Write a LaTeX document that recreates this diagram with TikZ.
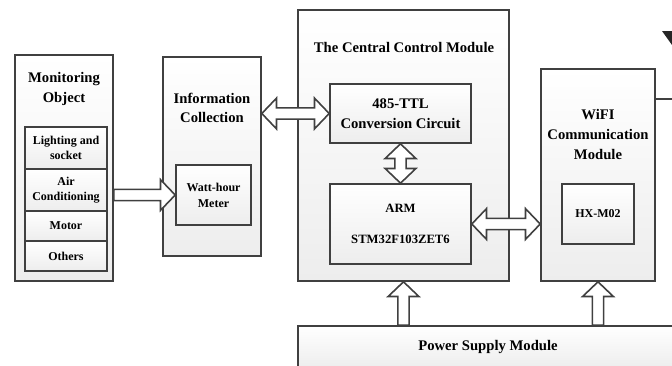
\documentclass[tikz,border=0pt]{standalone}
\usepackage{fontspec}
\setmainfont{Liberation Serif}
\usepackage{xcolor}
\usetikzlibrary{calc}

\definecolor{linegray}{HTML}{404040}
\definecolor{boxgray}{HTML}{EDEDED}

% hollow block arrows, tip at #2 (single) or at both ends (double)
\newcommand{\fatarrow}[2]{%
  \coordinate (hb) at ($(#2)!11pt!(#1)$);
  \draw[blockarrow] ($(#1)!4.2pt!90:(#2)$) -- ($(hb)!4.2pt!-90:(#1)$) -- ($(hb)!11.5pt!-90:(#1)$) -- (#2)
    -- ($(hb)!11.5pt!90:(#1)$) -- ($(hb)!4.2pt!90:(#1)$) -- ($(#1)!4.2pt!-90:(#2)$) -- cycle;}
\newcommand{\fatdarrow}[2]{%
  \coordinate (ha) at ($(#1)!11pt!(#2)$);
  \coordinate (hb) at ($(#2)!11pt!(#1)$);
  \draw[blockarrow] (#1) -- ($(ha)!11.5pt!90:(#2)$) -- ($(ha)!4.2pt!90:(#2)$) -- ($(hb)!4.2pt!-90:(#1)$)
    -- ($(hb)!11.5pt!-90:(#1)$) -- (#2) -- ($(hb)!11.5pt!90:(#1)$) -- ($(hb)!4.2pt!90:(#1)$)
    -- ($(ha)!4.2pt!-90:(#2)$) -- ($(ha)!11.5pt!-90:(#2)$) -- cycle;}

\begin{document}
\begin{tikzpicture}[x=0.75pt, y=-0.75pt,
  box/.style={draw=linegray, line width=1.2pt, top color=white, bottom color=boxgray, inner sep=1pt, align=center},
  title/.style={align=center, font=\fontsize{11}{14.8}\selectfont\bfseries},
  item/.style={box, font=\fontsize{9}{11.5}\selectfont\bfseries},
  blockarrow/.style={draw=linegray, line width=1.2pt, fill=white, line join=miter}
]
\useasboundingbox (0,0) rectangle (672,365);
\clip (0,0) rectangle (672,365);

% monitoring object
\node[box, minimum width=73.5pt, minimum height=169.5pt] (mo) at (64,168) {};
\node[title] (motitle) at (64,89) {Monitoring\\Object};
\node[item, minimum width=61.5pt, minimum height=31.5pt] (light) at (66,148) {Lighting and\\socket};
\node[item, minimum width=61.5pt, minimum height=31.5pt] (air) at (66,190) {Air\\Conditioning};
\node[item, minimum width=61.5pt, minimum height=22.5pt] (motor) at (66,226) {Motor};
\node[item, minimum width=61.5pt, minimum height=22.5pt] (others) at (66,256) {Others};

% information collection
\node[box, minimum width=73.5pt, minimum height=149.25pt] (ic) at (212,156.5) {};
\node[title] (ictitle) at (212,108) {Information\\Collection};
\node[item, minimum width=56.25pt, minimum height=45pt, font=\fontsize{9}{12}\selectfont\bfseries] (wm) at (213.5,195) {Watt-hour\\Meter};

% central control module
\node[box, minimum width=158.25pt, minimum height=203.25pt] (ccm) at (403.5,145.5) {};
\node[title] (ccmtitle) at (404,47) {The Central Control Module};
\node[box, title, minimum width=105.75pt, minimum height=44.25pt] (ttl) at (400.5,113.5) {485-TTL\\Conversion Circuit};
\node[item, minimum width=105.75pt, minimum height=60pt, font=\fontsize{9.5}{12}\selectfont\bfseries] (arm) at (400.5,224) {ARM\\[11pt]STM32F103ZET6};

% wifi module
\node[box, minimum width=85.5pt, minimum height=159pt] (wifi) at (598,175) {};
\node[title] (wifititle) at (598,134.5) {WiFI\\Communication\\Module};
\node[item, minimum width=54pt, minimum height=45pt] (hx) at (598,214) {HX-M02};

% power supply
\node[box, title, minimum width=285pt, minimum height=31.5pt] (psm) at (488,347) {Power Supply Module};

% connectors
\fatarrow{mo.east |- wm.west}{wm.west}
\fatdarrow{ic.east |- ttl.west}{ttl.west}
\fatdarrow{ttl.south}{arm.north}
\fatdarrow{arm.east}{wifi.west |- arm.east}
\fatarrow{ccm.south |- psm.north}{ccm.south}
\fatarrow{wifi.south |- psm.north}{wifi.south}

\coordinate (wifiout) at (680,99);
\draw[linegray, line width=1.2pt] (wifi.east |- wifiout) -- (wifiout);
\fill[black!85] (662,31) -- (672,31) -- (672,45) -- cycle;
\end{tikzpicture}
\end{document}
